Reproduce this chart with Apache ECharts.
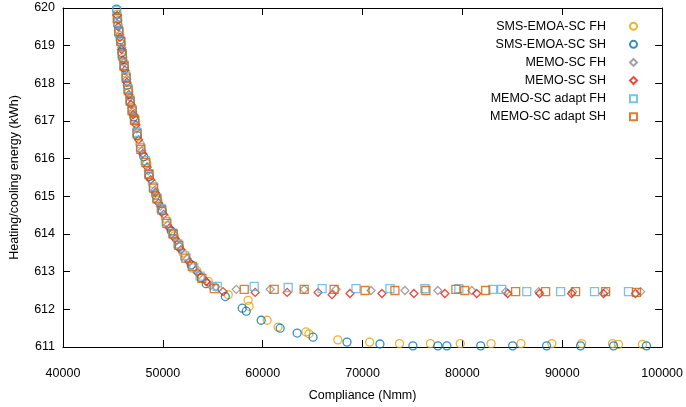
<!DOCTYPE html>
<html><head><meta charset="utf-8">
<script src="https://cdn.jsdelivr.net/npm/echarts@6/dist/echarts.min.js"></script>
<style>html,body{margin:0;padding:0;background:#fff}#c{width:686px;height:407px}</style>
</head><body><div id="c"></div>
<script>
// Tick settings
const xTicks = {min: 40000, max: 100000, interval: 10000};
const yTicks = {min: 611, max: 620, interval: 1};

const seriesNames = ["SMS-EMOA-SC FH","SMS-EMOA-SC SH","MEMO-SC FH","MEMO-SC SH","MEMO-SC adapt FH","MEMO-SC adapt SH"];

const smsFH = [[45440,619.84],[45600,619.42],[45850,619.05],[46000,618.68],[46300,618.26],[46600,617.76],[46900,617.37],[47270,617.00],[47700,616.39],[48400,615.87],[48950,615.34],[49500,614.89],[50250,614.42],[51150,613.95],[52000,613.50],[53400,613.03],[54560,612.74],[56550,612.39],[58540,612.24],[58640,612.08],[60440,611.71],[61540,611.53],[64330,611.40],[64630,611.35],[67520,611.19],[70710,611.13],[73700,611.09],[76790,611.09],[79780,611.09],[82870,611.09],[85860,611.09],[88950,611.09],[91940,611.09],[95030,611.09],[95630,611.07],[98030,611.07]];
const smsSH = [[45357,619.97],[45490,619.55],[45740,619.16],[45890,618.82],[46140,618.42],[46440,617.95],[46740,617.50],[47090,617.11],[47440,616.61],[48090,616.05],[48640,615.53],[49290,615.03],[49940,614.61],[50840,614.08],[51640,613.66],[52840,613.18],[53840,612.84],[54340,612.68],[56255,612.34],[57950,612.03],[58350,611.95],[59850,611.71],[61750,611.50],[63450,611.37],[65040,611.26],[68440,611.13],[71740,611.08],[75040,611.03],[77540,611.03],[78440,611.03],[81830,611.03],[85030,611.03],[88430,611.03],[91830,611.03],[95130,611.03],[98430,611.03]];
const memoFH = [[45490,619.68],[45690,619.29],[45890,618.95],[46090,618.55],[46390,618.11],[46690,617.63],[46990,617.24],[47390,616.79],[47890,616.21],[48540,615.68],[49190,615.16],[49740,614.74],[50490,614.24],[51390,613.82],[52440,613.34],[53640,612.92],[54790,612.63],[55300,612.60],[57350,612.53],[60750,612.53],[64150,612.53],[67350,612.53],[70850,612.50],[74240,612.50],[77540,612.50],[80940,612.50],[84340,612.47],[87640,612.47],[91040,612.47],[94340,612.47],[97840,612.47]];
const memoSH = [[45410,619.80],[45530,619.50],[45700,619.22],[45870,618.90],[46000,618.62],[46200,618.35],[46400,618.03],[46600,617.70],[46800,617.44],[47030,617.17],[47300,616.90],[47560,616.50],[47980,616.13],[48430,615.78],[48780,615.44],[49230,615.10],[49580,614.82],[50080,614.52],[50650,614.16],[51230,613.88],[51800,613.58],[52630,613.26],[53480,612.98],[54350,612.74],[56030,612.47],[59250,612.45],[62450,612.45],[65540,612.45],[66940,612.39],[68740,612.42],[71940,612.42],[75140,612.42],[78240,612.42],[81430,612.42],[84530,612.42],[87730,612.42],[90930,612.42],[94130,612.42],[97330,612.42]];
const adaptFH = [[45370,619.93],[45470,619.62],[45620,619.35],[45800,619.10],[45940,618.75],[46100,618.48],[46300,618.18],[46500,617.85],[46700,617.56],[46900,617.30],[47150,617.05],[47400,616.70],[47760,616.30],[48230,615.95],[48580,615.60],[49030,615.25],[49380,614.96],[49830,614.68],[50330,614.33],[50980,614.02],[51500,613.74],[52180,613.42],[53100,613.10],[53730,612.88],[55450,612.61],[59150,612.61],[62550,612.58],[65950,612.55],[69340,612.55],[72740,612.55],[76240,612.55],[79640,612.55],[83030,612.53],[83930,612.53],[86440,612.47],[89830,612.47],[93230,612.47],[96630,612.47]];
const adaptSH = [[45430,619.72],[45580,619.38],[45780,619.12],[45930,618.78],[46120,618.46],[46330,618.14],[46530,617.82],[46730,617.53],[46930,617.27],[47180,617.02],[47420,616.66],[47800,616.25],[48300,615.90],[48620,615.58],[49080,615.22],[49420,614.93],[49900,614.64],[50400,614.28],[51050,614.00],[51600,613.70],[52300,613.36],[52950,613.14],[53900,612.82],[55150,612.55],[58150,612.53],[61150,612.53],[64150,612.53],[67150,612.53],[70250,612.50],[73240,612.50],[76340,612.50],[79340,612.53],[80240,612.50],[82330,612.50],[85330,612.47],[88330,612.47],[91330,612.47],[94340,612.47],[97430,612.45]];

const seriesData = [smsFH, smsSH, memoFH, memoSH, adaptFH, adaptSH];
const colors = ['#E69F00','#0072B2','#8C8C8C','#E51E10','#56B4E9','#D55E00'];
const symbols = ['circle','circle','diamond','diamond','rect','rect'];
const sizes = [8,8,8,8,8,8];

const font = "'Liberation Sans', Arial, sans-serif";
const chart = echarts.init(document.getElementById('c'), null, {renderer:'canvas'});

const series = seriesNames.map((n,i)=>({
  name: n, type: 'scatter', data: seriesData[i], symbol: symbols[i], symbolSize: sizes[i],
  xAxisIndex: 0, yAxisIndex: 0,
  itemStyle: {color: 'rgba(255,255,255,0)', borderColor: colors[i], borderWidth: 1.3},
  emphasis: {disabled: true}
}));

const axisCommon = {
  axisLine: {show: true, onZero: false, lineStyle: {color: '#000', width: 1}},
  axisTick: {show: true, inside: true, length: 7, lineStyle: {color: '#000'}},
  splitLine: {show: false}
};

chart.setOption({
  animation: false,
  textStyle: {fontFamily: font},
  grid: {left: 63, right: 21, top: 8, bottom: 57},
  legend: {
    orient: 'vertical', align: 'right', right: 43, top: 14, itemGap: 3.6,
    itemWidth: 7, itemHeight: 7,
    textStyle: {fontSize: 12.5, color: '#000', fontFamily: font, padding: [0, 19, 0, 0], lineHeight: 14.5},
    data: seriesNames
  },
  xAxis: [
    Object.assign({type: 'value', position: 'bottom', min: xTicks.min, max: xTicks.max, interval: xTicks.interval,
      name: 'Compliance (Nmm)', nameLocation: 'middle', nameGap: 42,
      nameTextStyle: {fontSize: 12.5, color: '#000', fontFamily: font},
      axisLabel: {fontSize: 12.5, color: '#000', margin: 20, fontFamily: font, formatter: v => String(v)}}, axisCommon),
    Object.assign({type: 'value', position: 'top', min: xTicks.min, max: xTicks.max, interval: xTicks.interval,
      axisLabel: {show: false}}, axisCommon)
  ],
  yAxis: [
    Object.assign({type: 'value', position: 'left', min: yTicks.min, max: yTicks.max, interval: yTicks.interval,
      name: 'Heating/cooling energy (kWh)', nameLocation: 'middle', nameGap: 42, nameRotate: 90,
      nameTextStyle: {fontSize: 12.5, color: '#000', fontFamily: font},
      axisLabel: {fontSize: 12.5, color: '#000', margin: 8, fontFamily: font}}, axisCommon),
    Object.assign({type: 'value', position: 'right', min: yTicks.min, max: yTicks.max, interval: yTicks.interval,
      axisLabel: {show: false}}, axisCommon)
  ],
  series: series
});
</script></body></html>
